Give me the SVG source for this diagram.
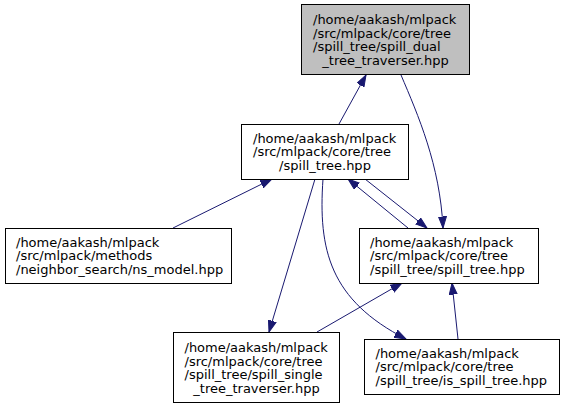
<svg xmlns="http://www.w3.org/2000/svg" width="565" height="408" viewBox="0 0 565 408">
<style>
.box{fill:#ffffff;stroke:#000000;stroke-width:1}
.hl{fill:#bfbfbf;stroke:#000000;stroke-width:1}
text{font-family:"DejaVu Sans","Liberation Sans",sans-serif;font-size:13px;fill:#000000}
.c{text-anchor:middle}
.e{fill:none;stroke:#191970;stroke-width:1;marker-end:url(#ah)}
</style>
<defs>
<marker id="ah" markerWidth="13" markerHeight="10" refX="11.5" refY="4.5" orient="auto" markerUnits="userSpaceOnUse">
<path d="M0,0.5 L11.5,4.5 L0,8.5 z" fill="#191970" stroke="#191970" stroke-width="1"/>
</marker>
</defs>
<rect width="565" height="408" fill="#ffffff"/>
<g id="connectors">
<path class="e" d="M339,124 L366,75"/>
<path class="e" d="M401,75 C418,115 440,165 443,228"/>
<path class="e" d="M173,228 L272,179"/>
<path class="e" d="M408,228 L348,179"/>
<path class="e" d="M365,179 L427,228"/>
<path class="e" d="M315,179 L269,332"/>
<path class="e" d="M323,179 C318,250 330,300 406,339"/>
<path class="e" d="M317,332 L402,283"/>
<path class="e" d="M458,339 L452,283"/>
</g>
<g id="node_dual">
<rect class="hl" x="301.5" y="4.5" width="168" height="70"/>
<text x="313" y="24">/home/aakash/mlpack</text>
<text x="313" y="37.5">/src/mlpack/core/tree</text>
<text x="313" y="51">/spill_tree/spill_dual</text>
<text class="c" x="385.5" y="64.5">_tree_traverser.hpp</text>
</g>
<g id="node_spill_tree_hpp">
<rect class="box" x="241.5" y="124.5" width="167" height="55"/>
<text x="253" y="142.5">/home/aakash/mlpack</text>
<text x="253" y="156">/src/mlpack/core/tree</text>
<text class="c" x="325" y="169.5">/spill_tree.hpp</text>
</g>
<g id="node_ns_model">
<rect class="box" x="5.5" y="228.5" width="226" height="55"/>
<text x="16" y="246.5">/home/aakash/mlpack</text>
<text x="16" y="260">/src/mlpack/methods</text>
<text x="16" y="273.5">/neighbor_search/ns_model.hpp</text>
</g>
<g id="node_spill_tree_spill_tree">
<rect class="box" x="359.5" y="228.5" width="179" height="55"/>
<text x="370" y="246.5">/home/aakash/mlpack</text>
<text x="370" y="260">/src/mlpack/core/tree</text>
<text x="370" y="273.5">/spill_tree/spill_tree.hpp</text>
</g>
<g id="node_single">
<rect class="box" x="173.5" y="332.5" width="166" height="70"/>
<text x="184.5" y="352">/home/aakash/mlpack</text>
<text x="184.5" y="365.5">/src/mlpack/core/tree</text>
<text x="184.5" y="379">/spill_tree/spill_single</text>
<text class="c" x="256.5" y="392.5">_tree_traverser.hpp</text>
</g>
<g id="node_is_spill_tree">
<rect class="box" x="364.5" y="339.5" width="195" height="55"/>
<text x="375.5" y="357.5">/home/aakash/mlpack</text>
<text x="375.5" y="371">/src/mlpack/core/tree</text>
<text x="375.5" y="384.5">/spill_tree/is_spill_tree.hpp</text>
</g>
</svg>
